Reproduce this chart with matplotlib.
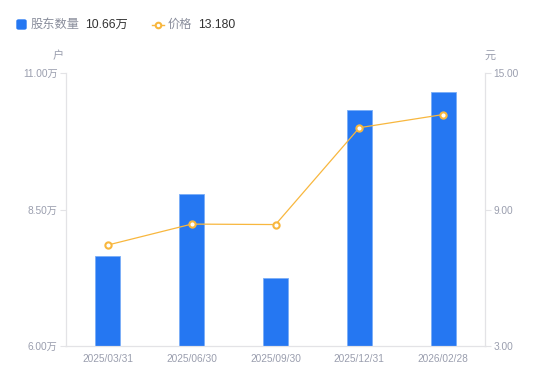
import matplotlib
matplotlib.use('Agg')
from matplotlib import pyplot as plt
from matplotlib.lines import Line2D
from matplotlib.patches import FancyBboxPatch

plt.rcParams['font.family'] = ['Liberation Sans', 'Noto Sans CJK SC', 'DejaVu Sans']

dates = ['2025/03/31', '2025/06/30', '2025/09/30', '2025/12/31', '2026/02/28']
holders = [7.64, 8.79, 7.24, 10.33, 10.66]   # 万户
prices = [7.44, 8.36, 8.34, 12.60, 13.18]    # 元

blue = '#2577f2'
orange = '#f8b73e'
grid_c = '#e3e3e6'
tick_c = '#9a9eae'

fig = plt.figure(figsize=(5.5, 3.81), dpi=100)
ax = fig.add_axes([0.12, 0.092, 0.762, 0.716])
ax2 = ax.twinx()

x = list(range(len(dates)))
ax.bar(x, holders, width=0.3, color=blue, edgecolor='#7aaef7', linewidth=0.6, zorder=2)
ax2.plot(x, prices, color=orange, linewidth=0.9, marker='o', markersize=4.5,
         markerfacecolor='white', markeredgecolor=orange, markeredgewidth=1.5, zorder=3)

ax.set_xlim(-0.5, len(dates) - 0.5)
ax.set_ylim(6, 11)
ax.set_yticks([6, 8.5, 11])
ax.set_yticklabels([f'{v:.2f}万' for v in [6, 8.5, 11]])
ax2.set_ylim(3, 15)
ax2.set_yticks([3, 9, 15])
ax2.set_yticklabels([f'{v:.2f}' for v in [3, 9, 15]])
ax.set_xticks(x)
ax.set_xticklabels(dates)

for a in (ax, ax2):
    for s in a.spines.values():
        s.set_color(grid_c)
        s.set_linewidth(0.8)
    a.spines['top'].set_visible(False)
    a.tick_params(axis='y', colors=grid_c, labelcolor=tick_c, labelsize=7.3,
                  length=4, width=0.8, pad=2)
ax.tick_params(axis='x', length=0, labelcolor=tick_c, labelsize=7.3, pad=6)

fig.text(58 / 550, 1 - 56 / 381, '户', color=tick_c, fontsize=8, ha='center', va='center')
fig.text(490 / 550, 1 - 56 / 381, '元', color=tick_c, fontsize=8, ha='center', va='center')

# legend
fig.add_artist(FancyBboxPatch((17 / 550, 1 - 29 / 381), 9 / 550, 9 / 381, color=blue,
                              boxstyle='round,pad=0,rounding_size=0.003',
                              transform=fig.transFigure))
fig.text(31 / 550, 1 - 24.5 / 381, '股东数量', color='#8a8e9c', fontsize=8.8, va='center')
fig.text(85 / 550, 1 - 24.5 / 381, '10.66万', color='#333333', fontsize=8.8, va='center')
fig.add_artist(Line2D([152 / 550, 164 / 550], [1 - 24.5 / 381] * 2, color=orange,
                      linewidth=1, transform=fig.transFigure))
fig.add_artist(Line2D([158 / 550], [1 - 24.5 / 381], marker='o', markersize=4,
                      markerfacecolor='white', markeredgecolor=orange, markeredgewidth=1.5,
                      transform=fig.transFigure))
fig.text(168 / 550, 1 - 24.5 / 381, '价格', color='#8a8e9c', fontsize=8.8, va='center')
fig.text(198 / 550, 1 - 24.5 / 381, '13.180', color='#333333', fontsize=8.8, va='center')

fig.savefig('out.png', dpi=100)
